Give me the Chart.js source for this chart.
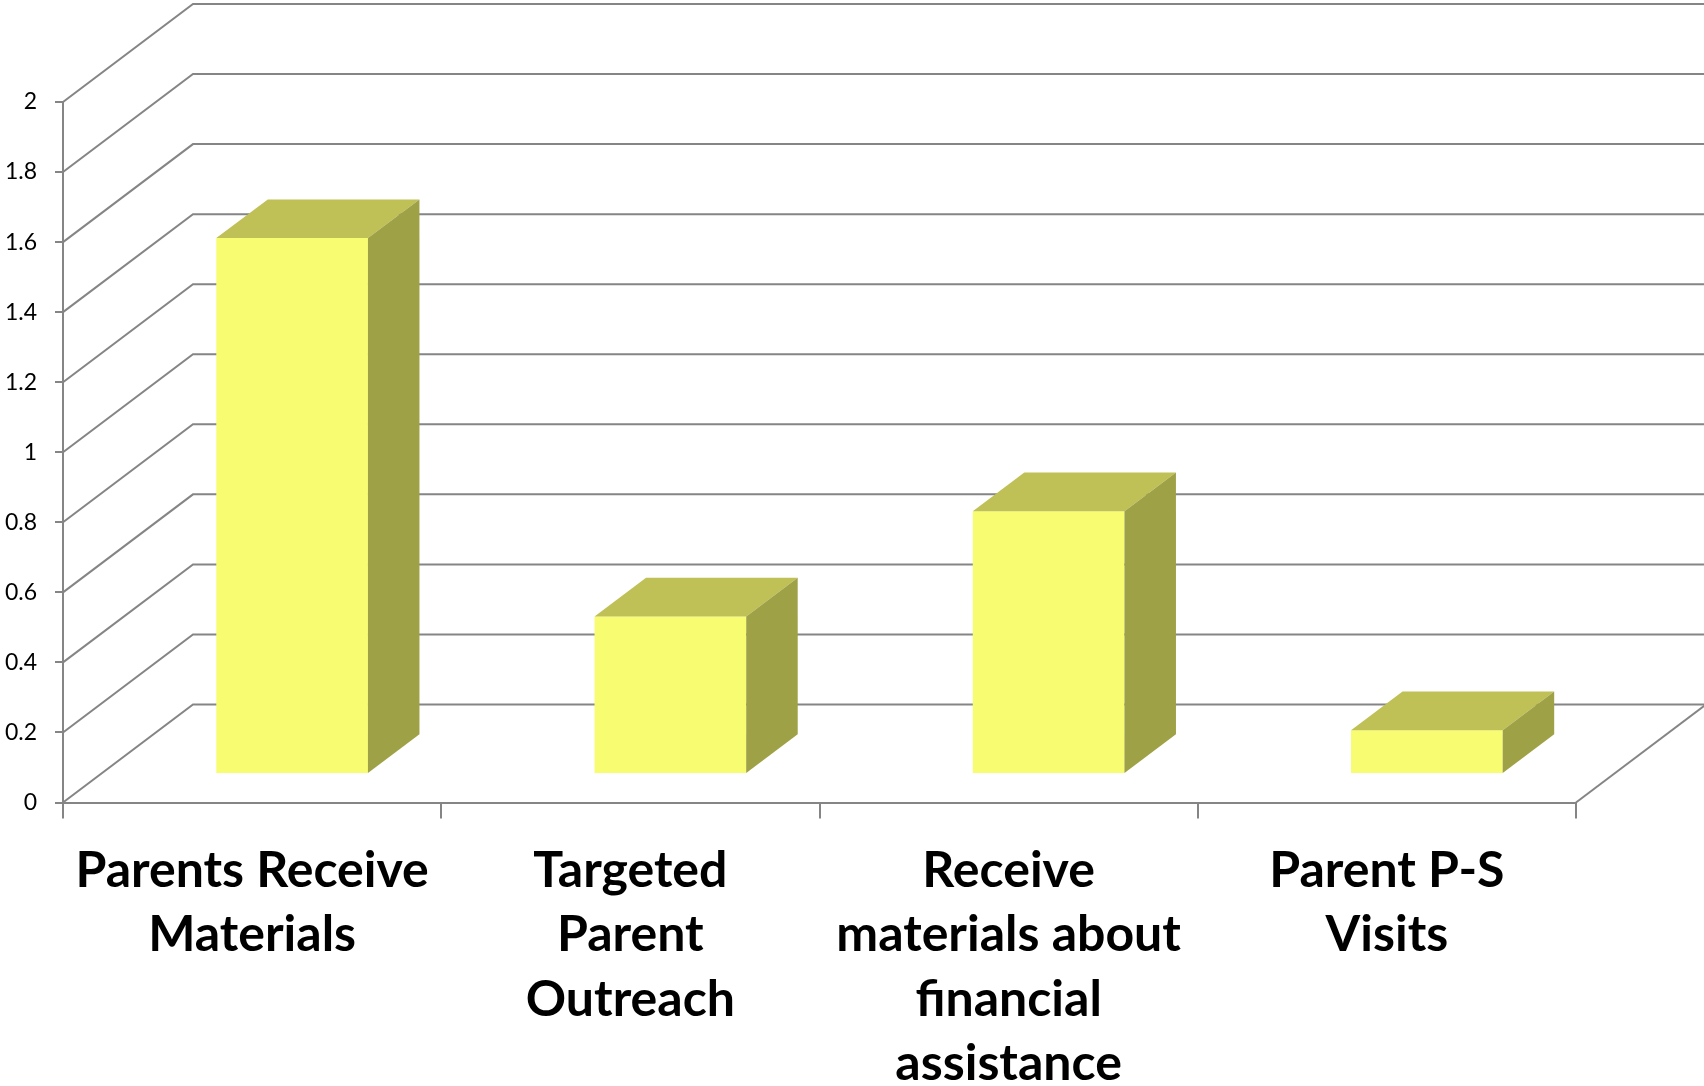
<!DOCTYPE html>
<html>
<head>
<meta charset="utf-8">
<script src="https://cdn.jsdelivr.net/npm/chart.js@4.4.1/dist/chart.umd.min.js"></script>
<style>
  html, body { margin: 0; padding: 0; background: #fff; overflow: hidden; }
  #wrap { position: relative; width: 1704px; height: 1086px; }
</style>
</head>
<body>
<div id="wrap"><canvas id="outreachChart"></canvas></div>
<script>
const categories = [
  ["Parents Receive", "Materials"],
  ["Targeted", "Parent", "Outreach"],
  ["Receive", "materials about", "financial", "assistance"],
  ["Parent P-S", "Visits"],
];
const scores = [1.53, 0.45, 0.75, 0.125];
const yTickValues = [0, 0.2, 0.4, 0.6, 0.8, 1, 1.2, 1.4, 1.6, 1.8, 2];
const yTickLabels = ["0", "0.2", "0.4", "0.6", "0.8", "1", "1.2", "1.4", "1.6", "1.8", "2"];

const GRID_COLOR = "#858585";
const FRONT_COLOR = "#f8fc70";
const TOP_COLOR = "#bfc055";
const SIDE_COLOR = "#9fa146";

// oblique depth of the back wall, and where the columns sit inside it
const WALL_DX = 130;
const WALL_DY = 98;
const BAR_SHIFT_X = 40;
const BAR_SHIFT_Y = 28.5;
const BAR_DX = 51.5;
const BAR_DY = 38.7;

const wall3d = {
  id: "wall3d",
  beforeDatasetsDraw(chart) {
    const { ctx, chartArea, scales, width } = chart;
    const yScale = scales.y;
    ctx.save();
    ctx.strokeStyle = GRID_COLOR;
    ctx.lineWidth = 2;
    ctx.lineJoin = "miter";
    yScale.ticks.forEach((t) => {
      const py = yScale.getPixelForValue(t.value);
      ctx.beginPath();
      ctx.moveTo(chartArea.left, py);
      ctx.lineTo(chartArea.left + WALL_DX, py - WALL_DY);
      ctx.lineTo(width + 10, py - WALL_DY);
      ctx.stroke();
    });
    // right edge of the floor
    ctx.beginPath();
    ctx.moveTo(chartArea.right, chartArea.bottom);
    ctx.lineTo(chartArea.right + WALL_DX, chartArea.bottom - WALL_DY);
    ctx.stroke();
    ctx.restore();
  },
  beforeDatasetDraw(chart) {
    chart.ctx.save();
    chart.ctx.translate(BAR_SHIFT_X, -BAR_SHIFT_Y);
  },
  afterDatasetDraw(chart, args) {
    const ctx = chart.ctx;
    args.meta.data.forEach((bar) => {
      const { x, y, base, width } = bar.getProps(["x", "y", "base", "width"], true);
      const l = x - width / 2;
      const r = x + width / 2;

      ctx.fillStyle = TOP_COLOR;
      ctx.beginPath();
      ctx.moveTo(l, y);
      ctx.lineTo(l + BAR_DX, y - BAR_DY);
      ctx.lineTo(r + BAR_DX, y - BAR_DY);
      ctx.lineTo(r, y);
      ctx.closePath();
      ctx.fill();

      ctx.fillStyle = SIDE_COLOR;
      ctx.beginPath();
      ctx.moveTo(r, y);
      ctx.lineTo(r + BAR_DX, y - BAR_DY);
      ctx.lineTo(r + BAR_DX, base - BAR_DY);
      ctx.lineTo(r, base);
      ctx.closePath();
      ctx.fill();
    });
    ctx.restore();
  },
};

Chart.defaults.font.family = "Lato, 'Open Sans', sans-serif";
Chart.defaults.color = "#000";

new Chart(document.getElementById("outreachChart"), {
  type: "bar",
  data: {
    labels: categories,
    datasets: [
      {
        data: scores,
        backgroundColor: FRONT_COLOR,
        borderWidth: 0,
        barPercentage: 0.401,
        categoryPercentage: 1,
        clip: false,
      },
    ],
  },
  options: {
    responsive: true,
    maintainAspectRatio: false,
    animation: false,
    events: [],
    layout: { padding: { top: 102, right: 128, left: 0, bottom: 0 } },
    plugins: {
      legend: { display: false },
      tooltip: { enabled: false },
    },
    scales: {
      x: {
        afterFit(scale) {
          scale.height = 283.5;
        },
        grid: {
          offset: true,
          drawOnChartArea: false,
          tickLength: 16,
          color: GRID_COLOR,
          lineWidth: 2,
        },
        border: { display: true, color: GRID_COLOR, width: 2 },
        ticks: {
          autoSkip: false,
          maxRotation: 0,
          padding: 20,
          color: "#000",
          font: { size: 50, weight: "bold", lineHeight: 1.29 },
        },
      },
      y: {
        min: 0,
        max: 2,
        afterFit(scale) {
          scale.width = 63;
        },
        afterBuildTicks(scale) {
          scale.ticks = yTickValues.map((v) => ({ value: v }));
        },
        grid: {
          drawOnChartArea: false,
          tickLength: 8,
          color: GRID_COLOR,
          lineWidth: 2,
        },
        border: { display: true, color: GRID_COLOR, width: 2 },
        ticks: {
          padding: 18,
          color: "#000",
          font: { size: 23 },
          callback: (value, index) => yTickLabels[index],
        },
      },
    },
  },
  plugins: [wall3d],
});
</script>
</body>
</html>
